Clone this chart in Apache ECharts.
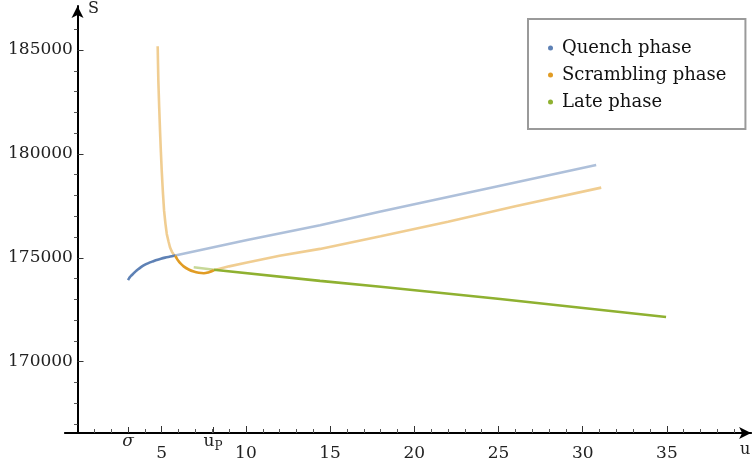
<!DOCTYPE html>
<html>
<head>
<meta charset="utf-8">
<script src="https://cdn.jsdelivr.net/npm/echarts@6/dist/echarts.min.js"></script>
<style>
  html, body { margin: 0; padding: 0; background: #fff; }
  #chart { width: 756px; height: 469px; }
</style>
</head>
<body>
<div id="chart"></div>
<script>
// quench phase: solid part and faded continuation
var quenchU = [3.0, 3.05, 3.1, 3.2, 3.3, 3.45, 3.6, 3.75, 3.9, 4.1, 4.3, 4.5, 4.7, 4.95, 5.2, 5.5, 5.8];
var quenchS = [173930, 174000, 174060, 174150, 174230, 174350, 174450, 174540, 174620, 174710, 174780, 174840, 174900, 174960, 175010, 175060, 175110];
var quenchFadeU = [5.8, 10, 14.4, 18, 25.1, 30.8];
var quenchFadeS = [175110, 175850, 176570, 177230, 178470, 179470];

// scrambling phase: faded steep part, solid dip, faded tail
var scrambleEarlyU = [4.76, 4.78, 4.8, 4.85, 4.9, 4.95, 5.0, 5.07, 5.14, 5.22, 5.3, 5.4, 5.49, 5.6, 5.7, 5.8];
var scrambleEarlyS = [185180, 184300, 183500, 182250, 181100, 180100, 179190, 178150, 177270, 176650, 176150, 175800, 175510, 175300, 175170, 175090];
var scrambleU = [5.8, 5.88, 5.95, 6.1, 6.3, 6.6, 6.9, 7.2, 7.5, 7.8, 8.1];
var scrambleS = [175100, 174990, 174900, 174740, 174590, 174440, 174340, 174280, 174260, 174310, 174400];
var scrambleFadeU = [8.1, 9, 10, 12, 14.4, 18, 22, 26, 31.1];
var scrambleFadeS = [174400, 174590, 174760, 175100, 175430, 176040, 176740, 177480, 178380];

// late phase
var lateFadeU = [6.9, 8.1];
var lateFadeS = [174550, 174430];
var lateU = [8.1, 14.4, 18, 25.1, 34.95];
var lateS = [174430, 173890, 173610, 173020, 172150];

// ticks
var xMajor = [5, 10, 15, 20, 25, 30, 35];
var xMinor = [1,2,3,4,6,7,8,9,11,12,13,14,16,17,18,19,21,22,23,24,26,27,28,29,31,32,33,34,36,37,38,39];
var sigmaU = 3.0, uP = 8.05;
var yMajor = [170000, 175000, 180000, 185000];
var yMinor = [167000,168000,169000,171000,172000,173000,174000,176000,177000,178000,179000,181000,182000,183000,184000,186000];

var FONT = 'DejaVu Serif';
var BLUE = '#5E81B5', ORANGE = '#E19C24', GREEN = '#8FB131';

function zip(us, ss) {
    return us.map(function (u, i) { return [u, ss[i]]; });
}

function line(name, us, ss, color, faded, smooth, z) {
    return {
        name: name,
        type: 'line',
        data: zip(us, ss),
        smooth: smooth,
        showSymbol: false,
        z: z,
        itemStyle: { color: color },
        lineStyle: { color: color, width: 2.6, opacity: faded ? 0.5 : 1 }
    };
}

var xCommon = { type: 'value', min: -0.75, max: 40, position: 'bottom', splitLine: { show: false } };
var yCommon = { type: 'value', min: 166570, max: 187120, splitLine: { show: false } };

var myChart = echarts.init(document.getElementById('chart'));
myChart.setOption({
    animation: false,
    grid: { left: 64.9, right: 4.9, top: 6, bottom: 36 },
    legend: {
        data: ['Quench phase', 'Scrambling phase', 'Late phase'],
        orient: 'vertical',
        left: 528, top: 19,
        padding: [20, 19, 18, 20],
        itemGap: 9,
        icon: 'circle',
        itemWidth: 5, itemHeight: 5,
        borderColor: '#9a9a9a', borderWidth: 2,
        backgroundColor: '#fff',
        selectedMode: false,
        textStyle: { fontFamily: FONT, fontSize: 18, lineHeight: 18, color: '#111', padding: [0, 0, 0, 4] }
    },
    xAxis: [
        Object.assign({}, xCommon, {
            axisLine: { onZero: false, symbol: ['none', 'arrow'], symbolSize: [9, 12], lineStyle: { color: '#000', width: 2 } },
            axisTick: { inside: true, length: 7, customValues: xMajor, lineStyle: { color: '#333' } },
            axisLabel: { customValues: xMajor, margin: 12, fontFamily: FONT, fontSize: 17, color: '#222' }
        }),
        Object.assign({}, xCommon, {
            axisLine: { show: false, onZero: false },
            axisTick: { inside: true, length: 4, customValues: xMinor, lineStyle: { color: '#555' } },
            axisLabel: { show: false }
        }),
        Object.assign({}, xCommon, {
            axisLine: { show: false, onZero: false },
            axisTick: { inside: true, length: 6, customValues: [sigmaU, uP], lineStyle: { color: '#333' } },
            axisLabel: {
                customValues: [sigmaU, uP], margin: -2,
                formatter: function (v) { return v === sigmaU ? '{i|σ}' : '{n|u}{s|P}'; },
                rich: {
                    i: { fontFamily: FONT, fontSize: 17, lineHeight: 22, fontStyle: 'italic', color: '#222' },
                    n: { fontFamily: FONT, fontSize: 17, lineHeight: 22, color: '#222' },
                    s: { fontFamily: FONT, fontSize: 12, lineHeight: 12, padding: [10, 0, 0, 0], color: '#222' }
                }
            }
        })
    ],
    yAxis: [
        Object.assign({}, yCommon, {
            axisLine: { onZero: true, symbol: ['none', 'arrow'], symbolSize: [9, 12], lineStyle: { color: '#000', width: 2 } },
            axisTick: { inside: true, length: 6, customValues: yMajor, lineStyle: { color: '#333' } },
            axisLabel: {
                customValues: yMajor, margin: -8, fontFamily: FONT, fontSize: 17, color: '#222',
                formatter: function (v) { return String(v); }
            }
        }),
        Object.assign({}, yCommon, {
            axisLine: { show: false, onZero: true },
            axisTick: { inside: true, length: 3.5, customValues: yMinor, lineStyle: { color: '#555' } },
            axisLabel: { show: false }
        })
    ],
    graphic: [
        { type: 'text', left: 88, top: 1, style: { text: 'S', fontFamily: FONT, fontSize: 16, fill: '#222' } },
        { type: 'text', left: 740, top: 442, style: { text: 'u', fontFamily: FONT, fontSize: 16, fill: '#222' } }
    ],
    series: [
        line('quench-fade', quenchFadeU, quenchFadeS, BLUE, true, false, 2),
        line('scramble-early', scrambleEarlyU, scrambleEarlyS, ORANGE, true, false, 2),
        line('scramble-fade', scrambleFadeU, scrambleFadeS, ORANGE, true, false, 2),
        line('late-fade', lateFadeU, lateFadeS, GREEN, true, false, 2),
        line('Quench phase', quenchU, quenchS, BLUE, false, 0.4, 3),
        line('Scrambling phase', scrambleU, scrambleS, ORANGE, false, 0.4, 3),
        line('Late phase', lateU, lateS, GREEN, false, false, 3)
    ]
});
</script>
</body>
</html>
